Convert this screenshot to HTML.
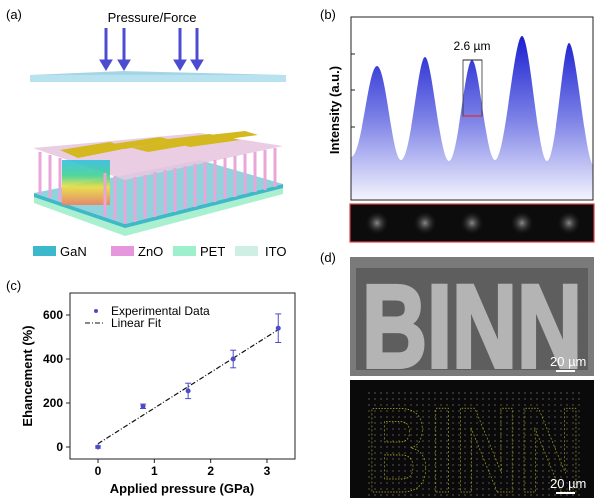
<!DOCTYPE html>
<html><head><meta charset="utf-8"><style>
html,body{margin:0;padding:0;background:#fff}
svg{display:block;font-family:"Liberation Sans",Arial,sans-serif}
</style></head><body>
<svg width="600" height="504" viewBox="0 0 600 504">
<defs>
<linearGradient id="bg" x1="0" y1="0" x2="0" y2="1">
<stop offset="0" stop-color="#1a1fd0"/><stop offset="0.5" stop-color="#7b80e6"/><stop offset="1" stop-color="#f4f4fd"/></linearGradient>
<linearGradient id="rb" x1="0" y1="0" x2="0" y2="1">
<stop offset="0" stop-color="#30c0e0"/><stop offset="0.35" stop-color="#40d090"/><stop offset="0.6" stop-color="#f0e040"/><stop offset="1" stop-color="#f08060"/></linearGradient>
<radialGradient id="spot"><stop offset="0" stop-color="#8a8a8a"/><stop offset="1" stop-color="#111" stop-opacity="0"/></radialGradient>
<pattern id="dots" width="6" height="6" patternUnits="userSpaceOnUse"><circle cx="3" cy="3" r="1" fill="#3a3a3a"/></pattern>
</defs>

<!-- Panel a -->
<g>
<text x="6" y="19" font-size="13">(a)</text>
<text x="152" y="22" font-size="13" text-anchor="middle">Pressure/Force</text>
<g fill="#4c4cd0" stroke="#4c4cd0">
<line x1="106" y1="28" x2="106" y2="62" stroke-width="3"/><polygon points="100,60 112,60 106,70"/>
<line x1="124" y1="28" x2="124" y2="62" stroke-width="3"/><polygon points="118,60 130,60 124,70"/>
<line x1="180" y1="28" x2="180" y2="62" stroke-width="3"/><polygon points="174,60 186,60 180,70"/>
<line x1="197" y1="28" x2="197" y2="62" stroke-width="3"/><polygon points="191,60 203,60 197,70"/>
</g>
<polygon points="30,75 286,75 286,82 30,82" fill="#b8e2ef"/>
<polygon points="30,75 124,71 286,75 30,75" fill="#a6d6e6"/>
<g>
<polygon points="34,195 125,226 283,186 283,194 125,236 34,203" fill="#a8f0d0"/>
<polygon points="34,193 125,224 283,184 283,188 125,228 34,197" fill="#40b8c8"/>
<polygon points="34,193 200,160 283,184 125,224" fill="#8fd4dc"/>
<polygon points="33,148 200,133 283,146 125,180" fill="#e8c8e0" opacity="0.9"/>
<rect x="62" y="160" width="48" height="45" fill="url(#rb)" opacity="0.9"/>
<g stroke="#e9a6d8" stroke-width="3">
<line x1="40" y1="152" x2="40" y2="194"/><line x1="50" y1="155" x2="50" y2="198"/><line x1="115" y1="176" x2="115" y2="220"/>
<line x1="125" y1="180" x2="125" y2="224"/><line x1="135" y1="177" x2="135" y2="222"/><line x1="145" y1="175" x2="145" y2="219"/>
<line x1="155" y1="172" x2="155" y2="217"/><line x1="165" y1="170" x2="165" y2="214"/><line x1="175" y1="168" x2="175" y2="212"/>
<line x1="185" y1="166" x2="185" y2="209"/><line x1="195" y1="164" x2="195" y2="207"/><line x1="205" y1="162" x2="205" y2="204"/>
<line x1="215" y1="160" x2="215" y2="202"/><line x1="225" y1="158" x2="225" y2="199"/><line x1="235" y1="156" x2="235" y2="197"/>
<line x1="245" y1="154" x2="245" y2="194"/><line x1="255" y1="152" x2="255" y2="192"/><line x1="265" y1="150" x2="265" y2="190"/>
<line x1="275" y1="148" x2="275" y2="187"/><line x1="60" y1="158" x2="60" y2="202"/><line x1="105" y1="173" x2="105" y2="217"/>
</g>
<g fill="#d4b820">
<polygon points="60,150 110,142 128,148 78,158"/><polygon points="112,144 160,137 175,141 125,149"/>
<polygon points="132,148 180,140 195,144 148,152"/><polygon points="160,140 210,134 225,138 176,145"/>
<polygon points="175,143 225,136 240,140 190,147"/><polygon points="200,136 245,131 258,135 214,141"/>
</g>
</g>
<g font-size="13">
<rect x="33" y="246" width="23" height="10" fill="#3cb8cc"/><text x="60" y="256">GaN</text>
<rect x="111" y="246" width="23" height="10" fill="#e596dc"/><text x="138" y="256">ZnO</text>
<rect x="173" y="246" width="23" height="10" fill="#9ef0cc"/><text x="200" y="256">PET</text>
<rect x="235" y="246" width="23" height="10" fill="#cfeee4"/><text x="265" y="256">ITO</text>
</g>
</g>

<!-- Panel b -->
<g>
<text x="320" y="19" font-size="13">(b)</text>
<path fill="url(#bg)" d="M351,157 C362,157 368,66 377,66 C386,66 392,160 401,160 C411,160 418,57 425,57 C432,57 440,161 449,161 C458,161 465,60 472,60 C479,60 486,160 495,160 C505,160 514,36 522,36 C530,36 538,161 547,161 C556,161 563,43 569,43 C576,43 585,158 593,165 L593,200 L351,200 Z"/>
<rect x="351" y="17" width="242" height="183" fill="none" stroke="#222" stroke-width="1"/>
<g stroke="#222"><line x1="351" y1="54" x2="355" y2="54"/><line x1="351" y1="90" x2="355" y2="90"/><line x1="351" y1="127" x2="355" y2="127"/></g>
<text transform="translate(339,110) rotate(-90)" font-size="13" font-weight="bold" text-anchor="middle">Intensity (a.u.)</text>
<rect x="463" y="60" width="19" height="56" fill="none" stroke="#333" stroke-width="0.8"/>
<line x1="463" y1="116" x2="482" y2="116" stroke="#e03030" stroke-width="1.2"/>
<line x1="463" y1="60" x2="482" y2="60" stroke="#222"/>
<text x="472" y="50" font-size="12" text-anchor="middle">2.6 µm</text>
<g>
<rect x="350" y="204" width="244" height="38" fill="#0c0c0c" stroke="#e0404a" stroke-width="1.2"/>
<circle cx="377" cy="223" r="12" fill="url(#spot)"/><circle cx="425" cy="223" r="12" fill="url(#spot)"/>
<circle cx="472" cy="223" r="12" fill="url(#spot)"/><circle cx="522" cy="223" r="12" fill="url(#spot)"/>
<circle cx="569" cy="223" r="12" fill="url(#spot)"/>
</g>
</g>

<!-- Panel c -->
<g>
<text x="6" y="290" font-size="13">(c)</text>
<rect x="70" y="293" width="225" height="166" fill="none" stroke="#222"/>
<g id="cax"></g>
<g id="cmarks"></g>
<text x="182" y="493" font-size="13" font-weight="bold" text-anchor="middle">Applied pressure (GPa)</text>
<text transform="translate(32,376) rotate(-90)" font-size="13" font-weight="bold" text-anchor="middle">Ehancement (%)</text>
<g font-size="12">
<circle cx="96" cy="311" r="2" fill="#4c4cc8"/><text x="111" y="315">Experimental Data</text>
<line x1="85" y1="323" x2="103" y2="323" stroke="#111" stroke-dasharray="5,2,1,2"/><text x="111" y="327">Linear Fit</text>
</g>
</g>

<!-- Panel d -->
<g>
<text x="320" y="262" font-size="13">(d)</text>
<g>
<rect x="350" y="257" width="244" height="119" fill="#7a7a7a"/>
<rect x="356" y="268" width="232" height="102" fill="#5e5e5e"/>
<text x="472" y="367" font-size="118" font-weight="bold" text-anchor="middle" fill="#b4b4b4" textLength="220" lengthAdjust="spacingAndGlyphs" font-family="Liberation Sans" stroke="#b4b4b4" stroke-width="4">BINN</text>
<text x="550" y="366" font-size="13" fill="#fff">20 µm</text>
<line x1="556" y1="371" x2="575" y2="371" stroke="#fff" stroke-width="2"/>
</g>
<g>
<rect x="350" y="380" width="244" height="118" fill="#0a0a0a"/>
<rect x="366" y="392" width="216" height="104" fill="url(#dots)"/>
<text x="474" y="492" font-size="122" font-weight="bold" text-anchor="middle" fill="none" stroke="#b8b020" stroke-width="0.8" stroke-dasharray="2,2" textLength="216" lengthAdjust="spacingAndGlyphs">BINN</text>
<text x="550" y="488" font-size="13" fill="#fff">20 µm</text>
<line x1="556" y1="493" x2="575" y2="493" stroke="#fff" stroke-width="2"/>
</g>
</g>
</svg>
<script>
const pressures=[0,0.8,1.6,2.4,3.2];
const enhancement=[0,185,255,400,540];
const errors=[5,10,35,40,65];
const xTicks=[0,1,2,3];
const yTicks=[0,200,400,600];
const fitIntercept=15, fitSlope=162;
const NS="http://www.w3.org/2000/svg";
function sx(v){return 98+v*56.33;}
function sy(v){return 447-v*0.22;}
function mk(tag,attrs,parent){const e=document.createElementNS(NS,tag);for(const k in attrs)e.setAttribute(k,attrs[k]);parent.appendChild(e);return e;}
const ax=document.getElementById('cax');
xTicks.forEach(t=>{
  mk('line',{x1:sx(t),y1:459,x2:sx(t),y2:463,stroke:'#222'},ax);
  const tx=mk('text',{x:sx(t),y:475,'font-size':12,'font-weight':'bold','text-anchor':'middle'},ax);
  tx.textContent=t;
  
  
});
yTicks.forEach(t=>{
  mk('line',{x1:66,y1:sy(t),x2:70,y2:sy(t),stroke:'#222'},ax);
  const tx=mk('text',{x:63,y:sy(t)+4,'font-size':12,'font-weight':'bold','text-anchor':'end'},ax);
  tx.textContent=t;
  
  
});
const mg=document.getElementById('cmarks');
const fit=mk('line',{x1:sx(0),y1:sy(fitIntercept),x2:sx(3.2),y2:sy(fitIntercept+fitSlope*3.2),stroke:'#111','stroke-width':1.2,'stroke-dasharray':'5,2,1,2'},mg);


pressures.forEach((p,i)=>{
  const x=sx(p),y=sy(enhancement[i]),e=errors[i];
  const g=mk('g',{stroke:'#4c4cc8',fill:'#4c4cc8'},mg);
  
  
  mk('line',{x1:x,y1:sy(enhancement[i]+e),x2:x,y2:sy(enhancement[i]-e)},g);
  mk('line',{x1:x-3,y1:sy(enhancement[i]+e),x2:x+3,y2:sy(enhancement[i]+e)},g);
  mk('line',{x1:x-3,y1:sy(enhancement[i]-e),x2:x+3,y2:sy(enhancement[i]-e)},g);
  mk('circle',{cx:x,cy:y,r:2},g);
});
</script>
</body></html>
